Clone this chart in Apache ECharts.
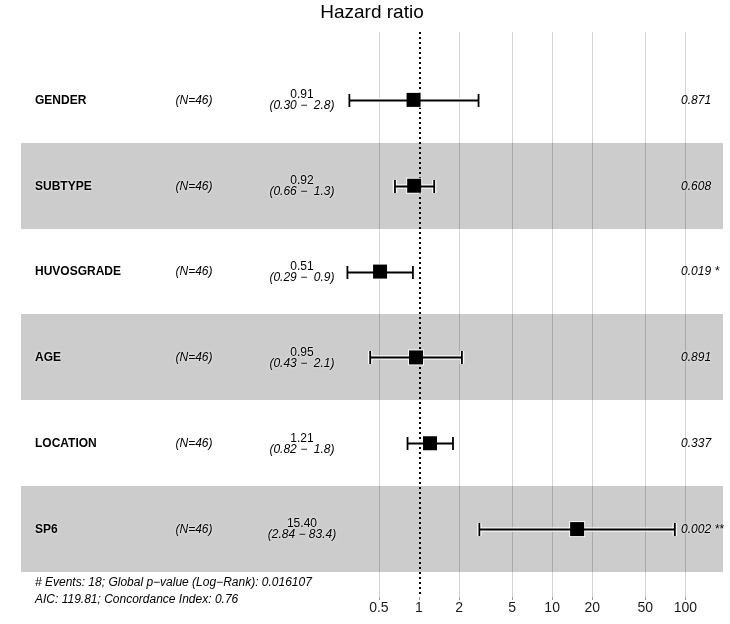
<!DOCTYPE html>
<html>
<head>
<meta charset="utf-8">
<title>Hazard ratio</title>
<script src="https://cdn.jsdelivr.net/npm/echarts@6/dist/echarts.min.js"></script>
<style>
  html, body { margin: 0; padding: 0; background: #fff; }
  #chart { width: 730px; height: 624px; }
</style>
</head>
<body>
<div id="chart"></div>
<script>
// ---- data ----
const variables = ["GENDER", "SUBTYPE", "HUVOSGRADE", "AGE", "LOCATION", "SP6"];
const nObs = [46, 46, 46, 46, 46, 46];
const hazard = [0.91, 0.92, 0.51, 0.95, 1.21, 15.40];
const ciLow = [0.30, 0.66, 0.29, 0.43, 0.82, 2.84];
const ciHigh = [2.8, 1.3, 0.9, 2.1, 1.8, 83.4];
const pValues = ["0.871", "0.608", "0.019", "0.891", "0.337", "0.002"];
const stars = ["", "", "*", "", "", "**"];
const tickValues = [0.5, 1, 2, 5, 10, 20, 50, 100];
const footnotes = [
    "# Events: 18; Global p\u2212value (Log\u2212Rank): 0.016107",
    "AIC: 119.81; Concordance Index: 0.76"
];

// ---- layout constants (x in log10 units, y in row units) ----
const LOG_MIN = -2.989, LOG_MAX = 2.283;
const Y_MIN = 0.209, Y_MAX = 6.791;
const COL = { name: -2.884, n: -1.690, hr: -0.879, p: 1.968 };
const FONT = '"Liberation Sans", Arial, Helvetica, sans-serif';

const lg = v => Math.log10(v);
const crisp = x => Math.round(x) + 0.5;
const rows = variables.map((_, i) => i + 1);
const shadedRows = rows.filter(r => r % 2 === 0);
const halo = { textShadowColor: "rgba(255,255,255,0.9)", textShadowBlur: 3 };

const chart = echarts.init(document.getElementById("chart"));

chart.setOption({
    animation: false,
    backgroundColor: "#ffffff",
    grid: { left: 21, right: 7, top: 32, bottom: 27 },
    xAxis: {
        type: "value",
        min: LOG_MIN,
        max: LOG_MAX,
        axisLine: { show: false },
        splitLine: { show: false },
        axisTick: {
            show: true,
            length: 3,
            customValues: tickValues.map(lg),
            lineStyle: { color: "#9a9a9a" }
        },
        axisLabel: {
            customValues: tickValues.map(lg),
            formatter: v => String(+Math.pow(10, v).toPrecision(2)),
            fontFamily: FONT,
            fontSize: 14,
            color: "#1a1a1a",
            margin: 4
        }
    },
    yAxis: { type: "value", min: Y_MIN, max: Y_MAX, inverse: true, show: false },
    graphic: [
        {
            type: "text", x: 372, y: 13,
            style: { text: "Hazard ratio", font: "19px " + FONT, fill: "#000", align: "center", verticalAlign: "middle" }
        },
        ...footnotes.map((t, i) => ({
            type: "text", x: 35, y: 583 + i * 17,
            style: { text: t, font: "italic 12px " + FONT, fill: "#000", align: "left", verticalAlign: "middle" }
        }))
    ],
    series: [
        // gray bands on every second row
        {
            type: "custom", silent: true, z: 1,
            data: shadedRows.map(r => [0, r]),
            renderItem: (params, api) => {
                const r = api.value(1);
                const a = api.coord([LOG_MIN, r - 0.5]);
                const b = api.coord([LOG_MAX, r + 0.5]);
                return {
                    type: "rect",
                    shape: { x: Math.round(a[0]), y: Math.round(a[1]), width: Math.round(b[0] - a[0]), height: Math.round(b[1] - a[1]) },
                    style: { fill: "#cccccc" }
                };
            }
        },
        // vertical grid lines
        {
            type: "custom", silent: true, z: 2,
            data: tickValues.filter(v => v !== 1).map(v => [lg(v), 0]),
            renderItem: (params, api) => {
                const top = api.coord([api.value(0), Y_MIN]);
                const bot = api.coord([api.value(0), Y_MAX]);
                const x = crisp(top[0]);
                return {
                    type: "line",
                    shape: { x1: x, y1: top[1], x2: x, y2: bot[1] },
                    style: { stroke: "rgba(0,0,0,0.17)", lineWidth: 1 }
                };
            }
        },
        // reference line at HR = 1
        {
            type: "custom", silent: true, z: 3,
            data: [[0, 0]],
            renderItem: (params, api) => {
                const top = api.coord([api.value(0), Y_MIN]);
                const bot = api.coord([api.value(0), Y_MAX]);
                const x = Math.round(top[0]) + 1;
                return {
                    type: "line",
                    shape: { x1: x, y1: top[1], x2: x, y2: bot[1] },
                    style: { stroke: "#000", lineWidth: 2, lineDash: [2, 3] }
                };
            }
        },
        // confidence intervals and point estimates
        {
            type: "custom", silent: true, z: 4,
            data: rows.map((r, i) => [lg(hazard[i]), r, lg(ciLow[i]), lg(ciHigh[i])]),
            renderItem: (params, api) => {
                const r = api.value(1);
                const c = api.coord([api.value(0), r]);
                const lo = api.coord([api.value(2), r])[0];
                const hi = api.coord([api.value(3), r])[0];
                const y = Math.round(c[1]) + 0.5;
                const cap = 6.5;
                const segs = [
                    [lo, y, hi, y],
                    [lo, y - cap, lo, y + cap],
                    [hi, y - cap, hi, y + cap]
                ];
                const kids = [];
                segs.forEach(s => kids.push({
                    type: "line", shape: { x1: s[0], y1: s[1], x2: s[2], y2: s[3] },
                    style: { stroke: "rgba(255,255,255,0.85)", lineWidth: 4.5 }
                }));
                kids.push({
                    type: "rect", shape: { x: c[0] - 8, y: c[1] - 8, width: 16, height: 16 },
                    style: { fill: "rgba(255,255,255,0.85)" }
                });
                segs.forEach(s => kids.push({
                    type: "line", shape: { x1: s[0], y1: s[1], x2: s[2], y2: s[3] },
                    style: { stroke: "#000", lineWidth: 1.8 }
                }));
                kids.push({
                    type: "rect", shape: { x: c[0] - 7, y: c[1] - 7, width: 14, height: 14 },
                    style: { fill: "#000" }
                });
                return { type: "group", children: kids };
            }
        },
        // table text: names, N, HR (CI), p-values
        {
            type: "custom", silent: true, z: 5,
            data: rows.map(r => [0, r]),
            renderItem: (params, api) => {
                const i = params.dataIndex;
                const r = api.value(1);
                const y = api.coord([0, r])[1] + 0.5;
                const x = k => api.coord([COL[k], r])[0];
                const ci = "(" + ciLow[i].toFixed(2) + " \u2212 " + ciHigh[i].toFixed(1).padStart(4, " ") + ")";
                return {
                    type: "group",
                    children: [
                        {
                            type: "text", x: x("name"), y: y,
                            style: Object.assign({ text: variables[i], font: "bold 12px " + FONT, fill: "#000", align: "left", verticalAlign: "middle" }, halo)
                        },
                        {
                            type: "text", x: x("n"), y: y,
                            style: Object.assign({ text: "(N=" + nObs[i] + ")", font: "italic 12px " + FONT, fill: "#000", align: "center", verticalAlign: "middle" }, halo)
                        },
                        {
                            type: "text", x: x("hr"), y: y,
                            style: {
                                text: "{e|" + hazard[i].toFixed(2) + "}\n{c|" + ci + "}",
                                align: "center", verticalAlign: "middle",
                                rich: {
                                    e: Object.assign({ fontFamily: FONT, fontSize: 12, lineHeight: 11, fill: "#000", align: "center" }, halo),
                                    c: Object.assign({ fontFamily: FONT, fontSize: 12, fontStyle: "italic", lineHeight: 11, fill: "#000", align: "center" }, halo)
                                }
                            }
                        },
                        {
                            type: "text", x: x("p"), y: y,
                            style: Object.assign({ text: pValues[i] + (stars[i] ? " " + stars[i] : ""), font: "italic 12px " + FONT, fill: "#000", align: "left", verticalAlign: "middle" }, halo)
                        }
                    ]
                };
            }
        }
    ]
});

window.addEventListener("resize", () => chart.resize());
</script>
</body>
</html>
